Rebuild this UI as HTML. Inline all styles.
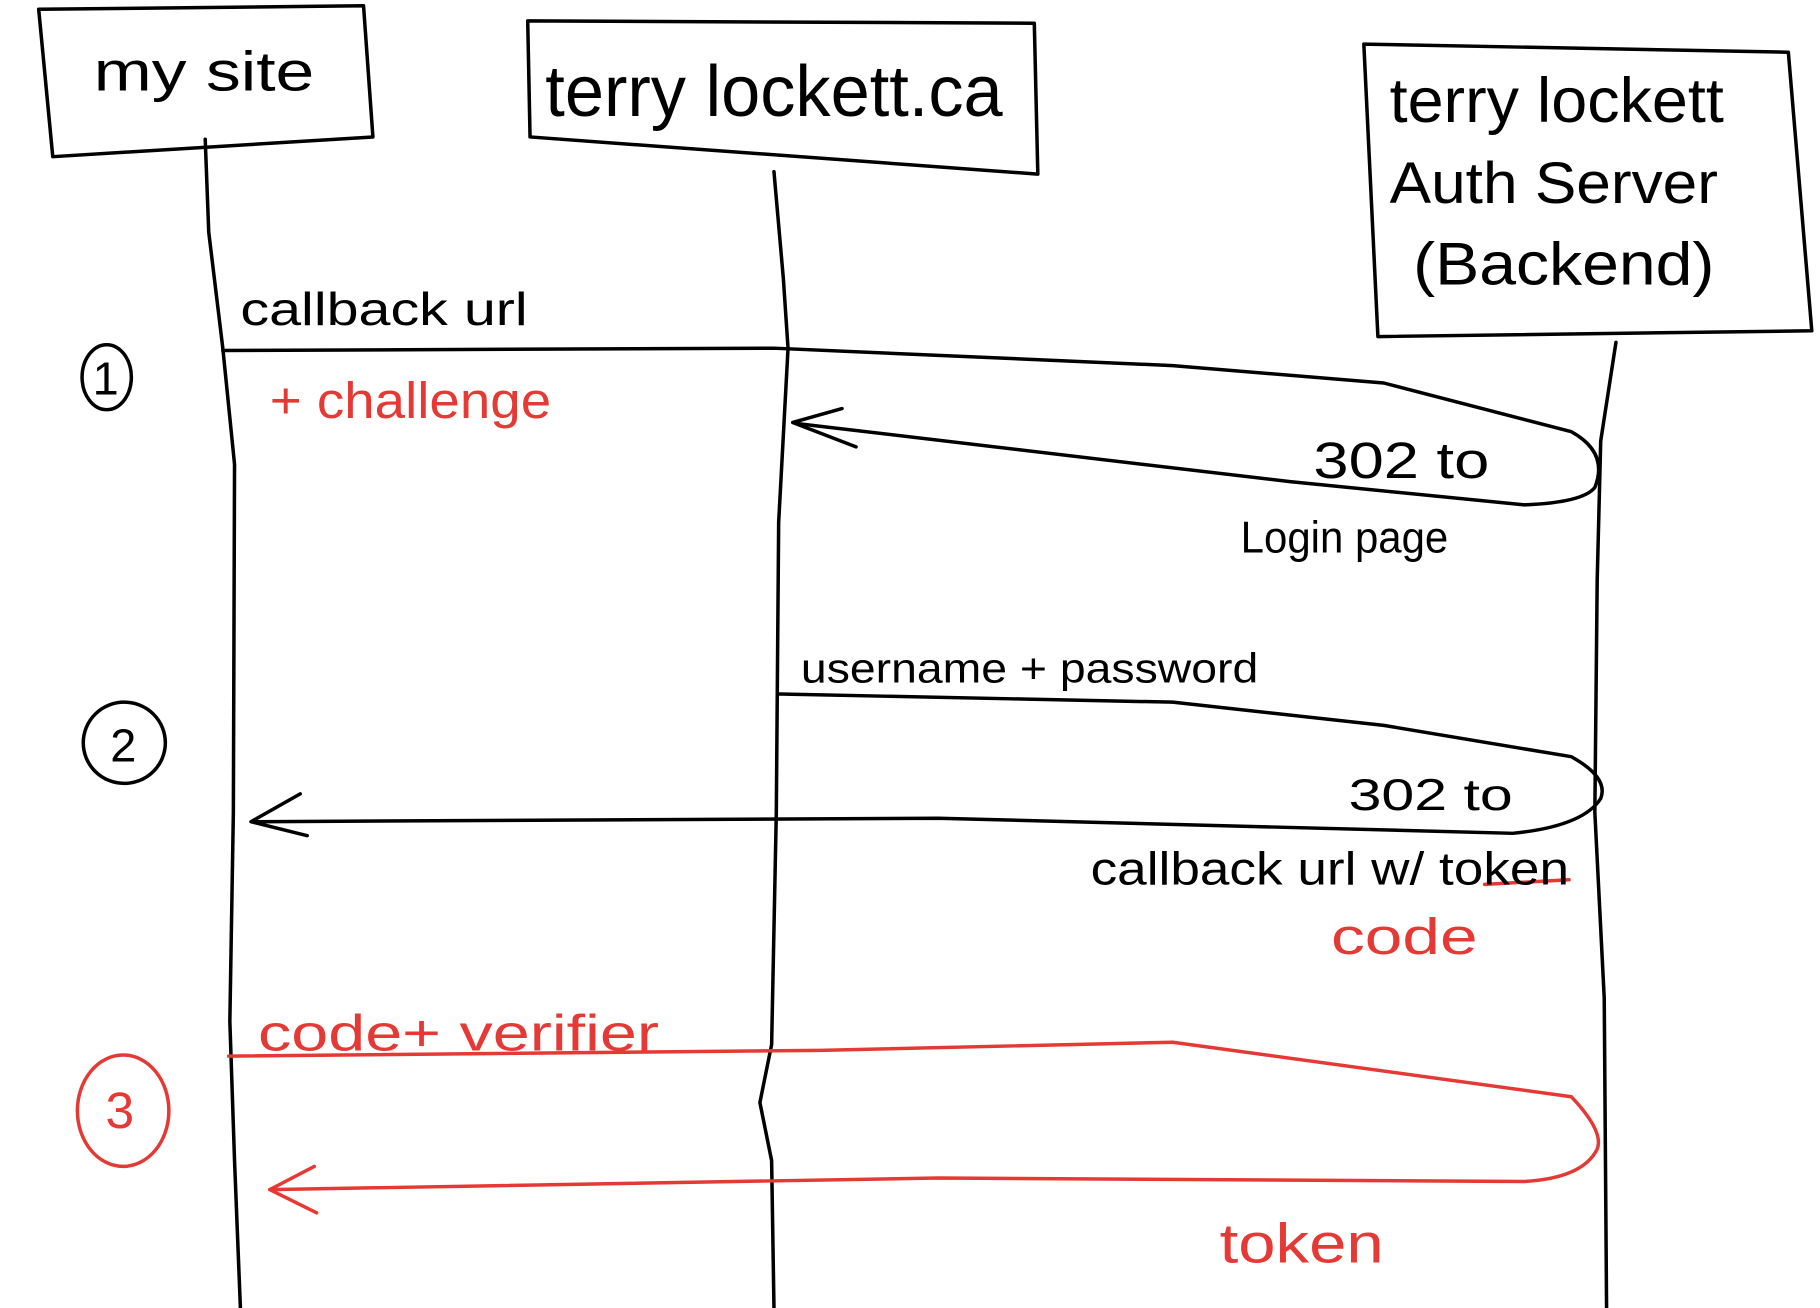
<!DOCTYPE html>
<html><head><meta charset="utf-8"><style>
html,body{margin:0;padding:0;background:#fff;}
svg{display:block;}
text{font-family:"Liberation Sans",sans-serif;}
</style></head><body>
<svg width="1820" height="1308" viewBox="0 0 1552 1127" preserveAspectRatio="none" xmlns="http://www.w3.org/2000/svg">
<rect width="1552" height="1127" fill="#fff"/>
<g fill="none" stroke="#000" stroke-width="3" stroke-linecap="round" stroke-linejoin="round">
<path d="M33,8 L310,5 L318,118 L45,135 Z"/>
<path d="M450,18 L882,20 L885,150 L452,118 Z"/>
<path d="M1163,38 L1525,45 L1545,285 L1175,290 Z"/>
<path d="M175,120 L178,200 L190,300 L200,400 L199,700 L196,880 L200,1000 L205,1127"/>
<path d="M660,148 L668,240 L672,300 L664,450 L662,700 L658,900 L648,950 L658,1000 L660,1127"/>
<path d="M1378,295 L1365,380 L1362,500 L1360,700 L1368,860 L1370,1127"/>
<path d="M190,302 L660,300 L1000,315 L1180,330 L1340,372 Q1372,390 1360,420 Q1350,433 1300,435 L1100,415 L680,365"/>
<path d="M718,352 L676,364 L730,385"/>
<ellipse cx="91" cy="325" rx="21" ry="28"/>
<path d="M665,598 L1000,605 L1180,625 L1340,652 Q1372,670 1365,688 Q1350,712 1290,718 L800,705 L215,708"/>
<path d="M256,684 L214,708 L262,720"/>
<circle cx="106" cy="640" r="35"/>
</g>
<g fill="none" stroke="#e53935" stroke-width="3" stroke-linecap="round" stroke-linejoin="round">
<path d="M195,910 L700,905 L1000,898 L1340,945 Q1368,975 1362,990 Q1350,1015 1300,1018 L800,1015 L230,1025"/>
<path d="M268,1005 L230,1025 L270,1045"/>
<ellipse cx="105" cy="957" rx="39" ry="48"/>
<path d="M1266,762 L1338,758"/>
</g>
<g fill="#000">
<text x="80" y="78" font-size="48" textLength="188" lengthAdjust="spacingAndGlyphs">my site</text>
<text x="465" y="100" font-size="62" textLength="390" lengthAdjust="spacingAndGlyphs">terry lockett.ca</text>
<text x="1185" y="105" font-size="54" textLength="285" lengthAdjust="spacingAndGlyphs">terry lockett</text>
<text x="1185" y="175" font-size="50" textLength="280" lengthAdjust="spacingAndGlyphs">Auth Server</text>
<text x="1205" y="245" font-size="52" textLength="257" lengthAdjust="spacingAndGlyphs">(Backend)</text>
<text x="205" y="280" font-size="40" textLength="245" lengthAdjust="spacingAndGlyphs">callback url</text>
<text x="1120" y="412" font-size="44" textLength="150" lengthAdjust="spacingAndGlyphs">302 to</text>
<text x="1058" y="476" font-size="38" textLength="177" lengthAdjust="spacingAndGlyphs">Login page</text>
<text x="683" y="588" font-size="36" textLength="390" lengthAdjust="spacingAndGlyphs">username + password</text>
<text x="1150" y="698" font-size="38" textLength="140" lengthAdjust="spacingAndGlyphs">302 to</text>
<text x="930" y="762" font-size="40" textLength="408" lengthAdjust="spacingAndGlyphs">callback url w/ token</text>
<text x="79" y="340" font-size="40">1</text>
<text x="94" y="656" font-size="40">2</text>
</g>
<g fill="#e53935">
<text x="230" y="360" font-size="44" textLength="240" lengthAdjust="spacingAndGlyphs">+ challenge</text>
<text x="1135" y="822" font-size="44" textLength="125" lengthAdjust="spacingAndGlyphs">code</text>
<text x="220" y="905" font-size="44" textLength="342" lengthAdjust="spacingAndGlyphs">code+ verifier</text>
<text x="1040" y="1088" font-size="48" textLength="140" lengthAdjust="spacingAndGlyphs">token</text>
<text x="90" y="972" font-size="44">3</text>
</g>
</svg>
</body></html>
